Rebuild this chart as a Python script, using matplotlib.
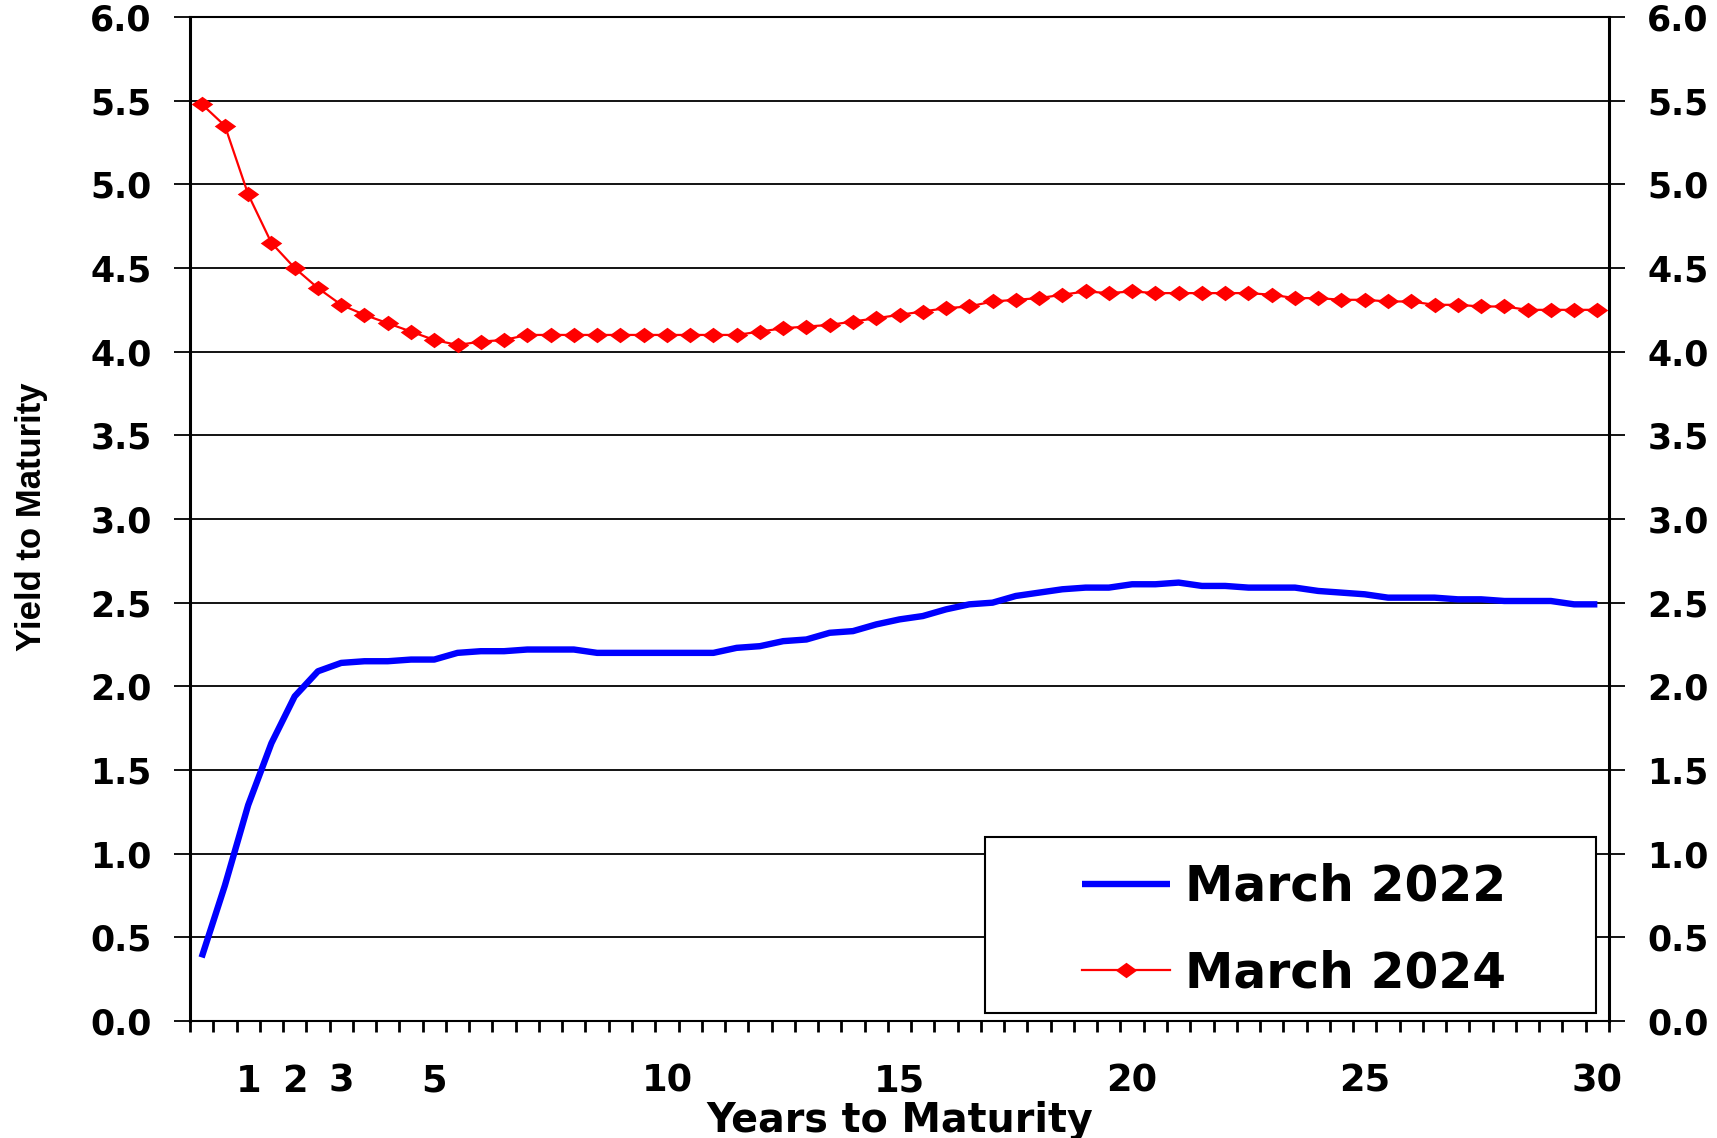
import matplotlib
matplotlib.use("Agg")
import matplotlib.pyplot as plt
from matplotlib import font_manager
from matplotlib.patches import Rectangle
import numpy as np

# maturities in years, one category per point
MATURITIES = [
    0.25, 0.5, 1.0, 1.5, 2.0, 2.5, 3.0, 3.5, 4.0, 4.5,
    5.0, 5.5, 6.0, 6.5, 7.0, 7.5, 8.0, 8.5, 9.0, 9.5,
    10.0, 10.5, 11.0, 11.5, 12.0, 12.5, 13.0, 13.5, 14.0, 14.5,
    15.0, 15.5, 16.0, 16.5, 17.0, 17.5, 18.0, 18.5, 19.0, 19.5,
    20.0, 20.5, 21.0, 21.5, 22.0, 22.5, 23.0, 23.5, 24.0, 24.5,
    25.0, 25.5, 26.0, 26.5, 27.0, 27.5, 28.0, 28.5, 29.0, 29.5,
    30.0,
]

YIELD_2022 = [
    0.38, 0.81, 1.29, 1.66, 1.94, 2.09, 2.14, 2.15, 2.15, 2.16,
    2.16, 2.20, 2.21, 2.21, 2.22, 2.22, 2.22, 2.20, 2.20, 2.20,
    2.20, 2.20, 2.20, 2.23, 2.24, 2.27, 2.28, 2.32, 2.33, 2.37,
    2.40, 2.42, 2.46, 2.49, 2.50, 2.54, 2.56, 2.58, 2.59, 2.59,
    2.61, 2.61, 2.62, 2.60, 2.60, 2.59, 2.59, 2.59, 2.57, 2.56,
    2.55, 2.53, 2.53, 2.53, 2.52, 2.52, 2.51, 2.51, 2.51, 2.49,
    2.49,
]

YIELD_2024 = [
    5.48, 5.35, 4.94, 4.65, 4.50, 4.38, 4.28, 4.22, 4.17, 4.12,
    4.07, 4.04, 4.06, 4.07, 4.10, 4.10, 4.10, 4.10, 4.10, 4.10,
    4.10, 4.10, 4.10, 4.10, 4.12, 4.14, 4.15, 4.16, 4.18, 4.20,
    4.22, 4.24, 4.26, 4.27, 4.30, 4.31, 4.32, 4.34, 4.36, 4.35,
    4.36, 4.35, 4.35, 4.35, 4.35, 4.35, 4.34, 4.32, 4.32, 4.31,
    4.31, 4.30, 4.30, 4.28, 4.28, 4.27, 4.27, 4.25, 4.25, 4.25,
    4.25,
]

XTICK_YEARS = [1, 2, 3, 5, 10, 15, 20, 25, 30]
YTICKS = [0.0, 0.5, 1.0, 1.5, 2.0, 2.5, 3.0, 3.5, 4.0, 4.5, 5.0, 5.5, 6.0]

installed = {f.name for f in font_manager.fontManager.ttflist}
if "Liberation Sans Narrow" in installed:
    NARROW, NARROW_SIZE = "Liberation Sans Narrow", 31
else:
    NARROW, NARROW_SIZE = "Liberation Sans", 25

BOLD = "DejaVu Sans"

W, H = 1717, 1138
fig = plt.figure(figsize=(W / 100, H / 100), dpi=100)
ax = fig.add_axes([190 / W, 1 - 1021 / H, 1419 / W, 1004 / H])

x = np.arange(len(MATURITIES))

# flattened diamond marker
diamond = [(-1.0, 0.0), (0.0, 0.72), (1.0, 0.0), (0.0, -0.72), (-1.0, 0.0)]

ax.plot(x, YIELD_2022, color="#0000ff", linewidth=4.6, label="March 2022",
        solid_joinstyle="round", solid_capstyle="butt", zorder=3)
ax.plot(x, YIELD_2024, color="#ff0000", linewidth=1.6, marker=diamond,
        markersize=15.5, markerfacecolor="#ff0000", markeredgecolor="#ff0000",
        markeredgewidth=0, label="March 2024", zorder=4)

ax.set_xlim(-0.5, len(MATURITIES) - 0.5)
ax.set_ylim(0, 6)

# y axis: labels on both sides
ax.set_yticks(YTICKS)
ax.set_yticklabels([f"{v:.1f}" for v in YTICKS])
ax.tick_params(axis="y", which="major", direction="out", length=11.5, width=1.3,
               left=True, right=True, labelleft=True, labelright=True,
               pad=16, labelsize=25)
for lab in ax.get_yticklabels():
    lab.set_fontfamily(BOLD)
    lab.set_fontweight("bold")

ax.yaxis.grid(True, color="black", linewidth=1.3)
ax.set_axisbelow(True)

# x axis: tick marks between categories, labels at selected maturities
tick_pos = [MATURITIES.index(float(yr)) for yr in XTICK_YEARS]
ax.set_xticks(tick_pos)
ax.set_xticklabels([str(yr) for yr in XTICK_YEARS])
ax.set_xticks(np.arange(-0.5, len(MATURITIES)), minor=True)
ax.tick_params(axis="x", which="major", length=0, pad=30, labelsize=26.5)
ax.tick_params(axis="x", which="minor", direction="out", length=8, width=2)
for lab in ax.get_xticklabels():
    lab.set_fontfamily(BOLD)
    lab.set_fontweight("bold")

ax.set_xlabel("Years to Maturity", fontsize=28.5, fontweight="bold",
              family=BOLD, labelpad=1)
fig.text(31 / W, 1 - 517 / H, "Yield to Maturity", rotation=90,
         ha="center", va="center", fontsize=NARROW_SIZE, fontweight="bold",
         family=NARROW)

for side in ["left", "right"]:
    ax.spines[side].set_linewidth(2.2)
for side in ["top", "bottom"]:
    ax.spines[side].set_linewidth(1.5)

# legend box drawn separately so the inner spacing can be set freely
box = Rectangle(((985 - 190) / 1419, (1021 - 1013) / 1004),
                (1596 - 985) / 1419, (1013 - 837) / 1004,
                transform=ax.transAxes, facecolor="white", edgecolor="black",
                linewidth=1.5, zorder=6)
ax.add_patch(box)
leg = ax.legend(loc="center", bbox_to_anchor=((1294 - 190) / 1419, (1021 - 930) / 1004),
                frameon=False, borderpad=0, numpoints=1, handlelength=1.81,
                handletextpad=0.31, labelspacing=0.8,
                prop={"family": BOLD, "weight": "bold", "size": 35})
leg.set_zorder(7)

fig.savefig("out.png", dpi=100)
